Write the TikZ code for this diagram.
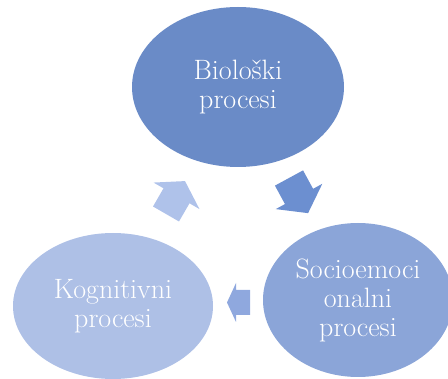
\documentclass[tikz,border=0pt]{standalone}
\usepackage{fontspec}
\usetikzlibrary{shapes.geometric}
\definecolor{cTop}{RGB}{106,139,199}
\definecolor{cRight}{RGB}{139,165,216}
\definecolor{cLeft}{RGB}{174,192,230}
\definecolor{aOne}{RGB}{108,143,208}
\definecolor{aTwo}{RGB}{143,168,222}
\definecolor{aThree}{RGB}{175,194,234}
\tikzset{
  blob/.style={ellipse, inner sep=0pt, text=white, align=center,
    font=\addfontfeatures{FakeStretch=1.25}\fontsize{28}{29}\selectfont},
}
\newcommand{\blockarrow}[8]{% x y angle L h H s color
  \begin{scope}[shift={(#1,#2)}, rotate=#3]
    \fill[#8] (0,-#7/2) -- (#4-#5,-#7/2) -- (#4-#5,-#6/2) -- (#4,0)
      -- (#4-#5,#6/2) -- (#4-#5,#7/2) -- (0,#7/2) -- cycle;
  \end{scope}}
\begin{document}
\begin{tikzpicture}[x=1pt,y=-1pt]
\useasboundingbox (0,0) rectangle (448,379);
\clip (0,0) rectangle (448,379);
\node[blob, fill=cTop, minimum width=212pt, minimum height=160pt] (bio) at (238,87) {Biološki\\procesi};
\node[blob, fill=cRight, minimum width=190pt, minimum height=154pt] (socio) at (358,300) {Socioemoci\\onalni\\procesi};
\node[blob, fill=cLeft, minimum width=200pt, minimum height=146pt] (kog) at (113,306) {Kognitivni\\procesi};
\blockarrow{289}{178}{-61.5}{40}{19}{53}{32}{aOne}
\blockarrow{250}{302.5}{180}{23}{9}{39}{25}{aTwo}
\blockarrow{166}{214}{60}{38}{17}{53}{30}{aThree}
\end{tikzpicture}
\end{document}
